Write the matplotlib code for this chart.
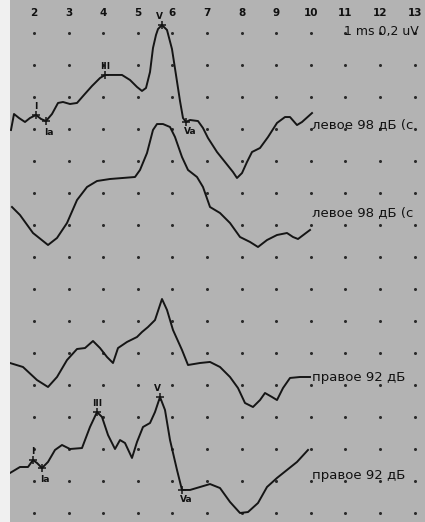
import numpy as np
import matplotlib
matplotlib.use("Agg")
import matplotlib.pyplot as plt

# ---------------- data (time in ms, amplitude in uV relative to trace baseline) -------------
t1 = [1.335, 1.422, 1.566, 1.740, 1.884, 2.058, 2.202, 2.347, 2.520, 2.694, 2.838, 3.040, 3.243,
      3.445, 3.676, 3.908, 4.052, 4.254, 4.543, 4.775, 4.977, 5.121, 5.237, 5.353, 5.439, 5.526,
      5.584, 5.699, 5.844, 5.988, 6.104, 6.220, 6.306, 6.393, 6.509, 6.740, 6.884, 7.029, 7.289,
      7.520, 7.751, 7.867, 8.012, 8.156, 8.301, 8.532, 8.763, 9.023, 9.254, 9.399, 9.601, 9.746,
      10.035]
a1 = [-0.050, 0.050, 0.025, 0.000, 0.025, 0.044, 0.019, 0.006, 0.050, 0.119, 0.125, 0.1125, 0.119,
      0.169, 0.225, 0.275, 0.294, 0.294, 0.294, 0.2625, 0.219, 0.194, 0.2125, 0.3125, 0.4625, 0.544,
      0.581, 0.606, 0.575, 0.456, 0.294, 0.131, 0.025, 0.000, 0.0125, 0.006, -0.0375, -0.100, -0.1875,
      -0.250, -0.3125, -0.350, -0.319, -0.250, -0.1875, -0.1625, -0.094, -0.006, 0.031, 0.031, -0.019,
      0.000, 0.056]

t2 = [1.364, 1.595, 1.971, 2.405, 2.665, 2.954, 3.243, 3.532, 3.821, 4.197, 4.572, 4.919, 5.064,
      5.266, 5.439, 5.555, 5.728, 5.931, 6.075, 6.277, 6.451, 6.711, 6.884, 7.087, 7.376, 7.665,
      7.954, 8.243, 8.474, 8.734, 9.023, 9.312, 9.486, 9.630, 9.977]
a2 = [0.0375, -0.0125, -0.125, -0.200, -0.156, -0.0625, 0.081, 0.1625, 0.200, 0.2125, 0.219, 0.225,
      0.269, 0.375, 0.519, 0.556, 0.556, 0.5375, 0.475, 0.350, 0.269, 0.225, 0.1625, 0.0375, 0.000,
      -0.0625, -0.150, -0.181, -0.2125, -0.169, -0.1375, -0.125, -0.150, -0.1625, -0.106]

t3 = [1.306, 1.682, 2.087, 2.405, 2.665, 2.954, 3.243, 3.474, 3.705, 3.908, 4.110, 4.283, 4.428,
      4.688, 4.977, 5.121, 5.295, 5.497, 5.699, 5.844, 6.017, 6.277, 6.451, 6.798, 7.087, 7.376,
      7.665, 7.896, 8.098, 8.329, 8.532, 8.676, 8.879, 9.023, 9.197, 9.399, 9.688, 9.977]
a3 = [0.0875, 0.0625, -0.019, -0.0625, 0.000, 0.106, 0.175, 0.181, 0.225, 0.181, 0.125, 0.0875, 0.181,
      0.219, 0.250, 0.281, 0.3125, 0.356, 0.4875, 0.419, 0.294, 0.169, 0.075, 0.0875, 0.094, 0.0625,
      0.000, -0.069, -0.1625, -0.1875, -0.144, -0.100, -0.125, -0.144, -0.069, -0.006, 0.000, 0.000]

t4 = [1.306, 1.595, 1.827, 1.971, 2.087, 2.231, 2.405, 2.607, 2.809, 3.040, 3.387, 3.618, 3.821,
      3.965, 4.139, 4.341, 4.486, 4.630, 4.832, 4.977, 5.150, 5.353, 5.497, 5.642, 5.786, 5.931,
      6.133, 6.277, 6.509, 6.798, 7.087, 7.376, 7.665, 7.954, 8.185, 8.474, 8.734, 9.023, 9.312,
      9.601, 9.919]
a4 = [0.000, 0.0375, 0.0375, 0.081, 0.0625, 0.031, 0.069, 0.144, 0.175, 0.150, 0.156, 0.2875, 0.381,
      0.350, 0.2375, 0.150, 0.206, 0.1875, 0.094, 0.194, 0.2875, 0.3125, 0.381, 0.475, 0.394, 0.206,
      0.019, -0.106, -0.106, -0.0875, -0.069, -0.094, -0.181, -0.250, -0.244, -0.1875, -0.0875,
      -0.031, 0.019, 0.069, 0.144]

trace_labels = ["левое 98 дБ (с", "левое 98 дБ (с", "правое 92 дБ", "правое 92 дБ"]

peak_names = ["I", "Ia", "III", "V", "Va"]
peaks_trace1 = [2.058, 2.347, 4.052, 5.699, 6.393]
peaks_trace4 = [1.971, 2.231, 3.821, 5.642, 6.277]

tick_ms = [2, 3, 4, 5, 6, 7, 8, 9, 10, 11, 12, 13]
scale_text = "1 ms 0,2 uV"

# ---------------- layout / style -------------
W, H = 425, 522
BG = "#b3b3b3"
LINE = "#151515"
baselines = [-0.7625, -1.33125, -2.35625, -2.95625]
label_y = [-0.78125, -1.33125, -2.35625, -2.96875]

fig = plt.figure(figsize=(W / 100, H / 100), dpi=100, facecolor="#f0f0f0")
ax = fig.add_axes([10 / W, 0, (W - 10) / W, 1])
ax.set_facecolor(BG)
ax.set_xlim(1.3064, 13.3006)
ax.set_ylim(-3.2625, 0)
for s in ax.spines.values():
    s.set_visible(False)
ax.set_xticks([])
ax.set_yticks([])

# dot grid
rows = -0.20625 - 0.2 * np.arange(16)
gx, gy = np.meshgrid(tick_ms, rows)
ax.plot(gx.ravel(), gy.ravel(), ls="none", marker="o", ms=2.2, color="#2a2a2a", mew=0)

# top ms numbers
for m in tick_ms:
    ax.text(m, -0.082, str(m), ha="center", va="center", fontsize=7.5,
            fontweight="bold", color="#111111")
ax.text(13.12, -0.195, scale_text, ha="right", va="center", fontsize=9, color="#111111")

# traces
traces = [(t1, a1), (t2, a2), (t3, a3), (t4, a4)]
for (t, a), b, lab, ly in zip(traces, baselines, trace_labels, label_y):
    ax.plot(t, np.array(a) + b, color=LINE, lw=1.4, solid_joinstyle="round")
    ax.text(10.04, ly, lab, ha="left", va="center", fontsize=9.5, color="#111111", clip_on=False)

# peak markers
offsets = {"I": (0, 6), "Ia": (2, -8), "III": (0, 6), "V": (-2, 6), "Va": (3, -7)}
for (t, a), b, peaks in [((t1, a1), baselines[0], peaks_trace1), ((t4, a4), baselines[3], peaks_trace4)]:
    for name, pt in zip(peak_names, peaks):
        yv = np.interp(pt, t, a) + b
        ax.plot([pt], [yv], marker="+", ms=6, mew=1.1, color=LINE)
        ax.annotate(name, (pt, yv), xytext=offsets[name], textcoords="offset points",
                    ha="center", va="center", fontsize=6.5, fontweight="bold", color="#111111")

fig.savefig("out.png", dpi=100, facecolor=fig.get_facecolor())
